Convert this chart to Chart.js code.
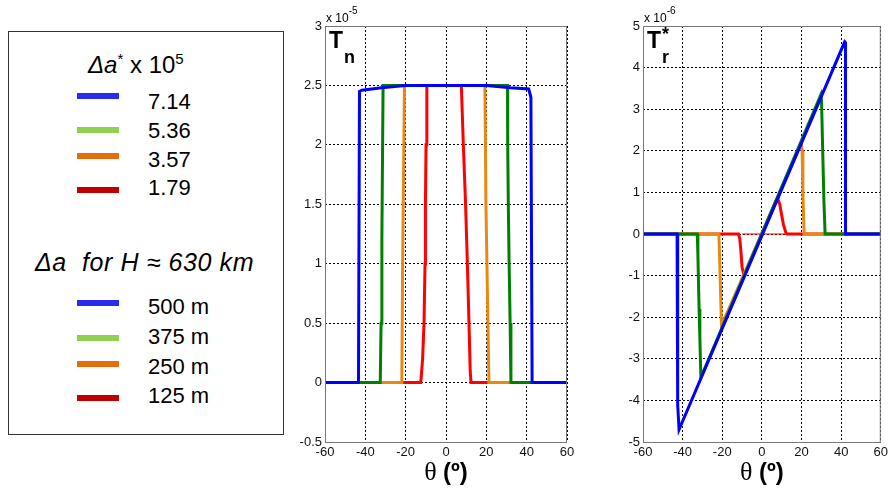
<!DOCTYPE html>
<html>
<head>
<meta charset="utf-8">
<script src="https://cdn.jsdelivr.net/npm/chart.js@4.4.0/dist/chart.umd.min.js"></script>
<style>
  body { margin: 0; background: #fff; width: 891px; height: 489px; overflow: hidden; position: relative; font-family: "Liberation Sans", Arial, sans-serif; }
  canvas { position: absolute; top: 0; }
  #legendBox { position: absolute; left: 8px; top: 31px; width: 274px; height: 402px; border: 1px solid #333; }
  .lg { position: absolute; font-size: 22px; line-height: 24px; color: #000; white-space: nowrap; }
  .sw { position: absolute; left: 77px; width: 42px; height: 6px; }
  sup { font-size: 15px; line-height: 0; }
</style>
</head>
<body>
<div id="legendBox"></div>
<div id="legend"></div>
<canvas id="chartTn" width="290" height="489" style="left:290px"></canvas>
<canvas id="chartTr" width="291" height="489" style="left:600px"></canvas>
<script>
// legend
const legendTitle1 = '<i>&Delta;a</i><sup>*</sup> x 10<sup>5</sup>';
const legendTitle2 = '<i>&Delta;a&nbsp; for H &asymp; 630 km</i>';
const legendDa = ['7.14', '5.36', '3.57', '1.79'];
const legendH = ['500 m', '375 m', '250 m', '125 m'];
const legendColors = ['#2b2bf0', '#92d050', '#e46c0a', '#c00000'];

// series colours on the charts (blue, green, orange, red)
const lineColors = ['#0000ff', '#008000', '#e88a12', '#ff0000'];

// Tn (x 1e-5) vs theta
const tnThetaBlue = [-60, -43.4, -42.9, -41.7, -32, -20, 0, 20, 32, 41, 42.1, 42.7, 60];
const tnBlue = [0, 0, 2.45, 2.46, 2.48, 2.5, 2.5, 2.5, 2.48, 2.47, 2.4, 0, 0];
const tnThetaGreen = [-60, -32.6, -32.2, -31.8, -31.2, 30.5, 30.6, 30.9, 31.3, 31.8, 32.2, 60];
const tnGreen = [0, 0, 0.5, 1.2, 2.5, 2.5, 2.0, 1.5, 1.0, 0.5, 0, 0];
const tnThetaOrange = [-60, -21.9, -21.5, -20.6, 19.3, 19.8, 20.5, 21.3, 60];
const tnOrange = [0, 0, 1.0, 2.5, 2.5, 1.5, 0.8, 0, 0];
const tnThetaRed = [-60, -12.5, -11.6, -10.9, -10.4, -10.2, -9.9, -9.5, 7.6, 8.6, 9.7, 10.6, 11.4, 12.0, 12.4, 60];
const tnRed = [0, 0, 0.2, 0.5, 1.0, 1.5, 2.0, 2.5, 2.5, 2.0, 1.5, 1.0, 0.5, 0.1, 0, 0];

// Tr* (x 1e-6) vs theta
const trThetaBlue = [-60, -42.8, -42.5, -41.8, 41.8, 42.2, 42.2, 60];
const trBlue = [0, 0, -4.1, -4.7, 4.62, 4.6, 0, 0];
const trThetaGreen = [-60, -32.6, -32.3, -31.7, -31.3, -30.8, 29.8, 30.1, 30.8, 31.3, 31.9, 60];
const trGreen = [0, 0, -0.5, -1.8, -2.5, -3.45, 3.35, 3.2, 1.8, 0.8, 0, 0];
const trThetaOrange = [-60, -21.7, -21.2, -20.4, 20.0, 20.3, 20.7, 21.3, 60];
const trOrange = [0, 0, -0.8, -2.2, 2.2, 2.0, 1.0, 0, 0];
const trThetaRed = [-60, -11.8, -11.2, -10.6, -10.0, -9.0, 7.0, 8.0, 9.0, 10.0, 11.0, 12.2, 12.7, 60];
const trRed = [0, 0, -0.1, -0.4, -0.8, -1.0, 0.78, 0.85, 0.72, 0.45, 0.2, 0.02, 0, 0];
const trThetaRedThin = [-10, 12];
const trRedThin = [0, 0];

const xTicks = [-60, -40, -20, 0, 20, 40, 60];

// build the html legend
(function () {
  let html = '';
  html += '<div class="lg" style="left:88px;top:53px;font-size:24px">' + legendTitle1 + '</div>';
  const txtY1 = [101.5, 130.5, 159.5, 188.3], swY1 = [96, 130, 156, 190];
  const txtY2 = [306.5, 337, 367, 396], swY2 = [303, 338, 364, 398];
  legendDa.forEach((t, i) => {
    html += '<div class="sw" style="top:' + (swY1[i] - 3) + 'px;background:' + legendColors[i] + '"></div>';
    html += '<div class="lg" style="left:148px;top:' + (txtY1[i] - 12) + 'px">' + t + '</div>';
  });
  html += '<div class="lg" style="left:35px;top:250px;font-size:25px;letter-spacing:0.6px">' + legendTitle2 + '</div>';
  legendH.forEach((t, i) => {
    html += '<div class="sw" style="top:' + (swY2[i] - 3) + 'px;background:' + legendColors[i] + '"></div>';
    html += '<div class="lg" style="left:148px;top:' + (txtY2[i] - 12) + 'px">' + t + '</div>';
  });
  document.getElementById('legend').innerHTML = html;
})();

function pts(xs, ys) {
  return xs.map((x, i) => ({ x: x, y: ys[i] }));
}

function ds(xs, ys, color, order, width) {
  return {
    data: pts(xs, ys),
    borderColor: color,
    backgroundColor: color,
    borderWidth: width || 3,
    showLine: true,
    pointRadius: 0,
    tension: 0,
    order: order
  };
}

// frame, corner label and axis title
const decor = {
  id: 'decor',
  afterDraw(chart, args, opts) {
    const ctx = chart.ctx, a = chart.chartArea;
    ctx.save();
    ctx.strokeStyle = '#777';
    ctx.lineWidth = 1;
    ctx.strokeRect(a.left + 0.5, a.top + 0.5, a.right - a.left - 1, a.bottom - a.top);
    ctx.fillStyle = '#000';
    ctx.textBaseline = 'alphabetic';
    // x 10^exp
    ctx.font = '12px "Liberation Sans", Arial';
    ctx.fillText('x 10', a.left + 1, a.top - 4);
    const w = ctx.measureText('x 10').width;
    ctx.font = '10px "Liberation Sans", Arial';
    ctx.fillText(opts.exp, a.left + 1 + w, a.top - 12);
    // T with subscript
    ctx.font = 'bold 23px "Liberation Sans", Arial';
    ctx.fillText('T', a.left + 4, a.top + 22);
    const tw = ctx.measureText('T').width;
    if (opts.star) {
      ctx.font = 'bold 18px "Liberation Sans", Arial';
      ctx.fillText('*', a.left + 4 + tw + 1, a.top + 14);
    }
    ctx.font = 'bold 18px "Liberation Sans", Arial';
    ctx.fillText(opts.sub, a.left + 4 + tw + 1, a.top + 37);
    // axis title
    ctx.font = '26px "Liberation Serif", serif';
    const t1 = 'θ ';
    const w1 = ctx.measureText(t1).width;
    ctx.font = 'bold 24px "Liberation Sans", Arial';
    const t2 = '(º)';
    const w2 = ctx.measureText(t2).width;
    const cx = (a.left + a.right) / 2;
    let x0 = cx - (w1 + w2) / 2;
    ctx.font = '26px "Liberation Serif", serif';
    ctx.fillText(t1, x0, a.bottom + 38);
    ctx.font = 'bold 24px "Liberation Sans", Arial';
    ctx.fillText(t2, x0 + w1, a.bottom + 38);
    ctx.restore();
  }
};

function makeOptions(yMin, yMax, yStep, yWidth, rightPad, exp, sub, star) {
  return {
    responsive: false,
    animation: false,
    layout: { autoPadding: false, padding: { top: 26, right: rightPad, left: 0, bottom: 0 } },
    plugins: {
      legend: { display: false },
      tooltip: { enabled: false },
      decor: { exp: exp, sub: sub, star: star }
    },
    scales: {
      x: {
        type: 'linear', min: -60, max: 60,
        afterBuildTicks: (s) => { s.ticks = xTicks.map(v => ({ value: v })); },
        afterFit: (s) => { s.height = 47; },
        ticks: { color: '#111', font: { size: 13, family: '"Liberation Sans", Arial' }, padding: 3, maxRotation: 0, autoSkip: false },
        grid: { color: '#000', lineWidth: 1, drawTicks: false, tickLength: 0 },
        border: { display: false, dash: [2, 2] }
      },
      y: {
        type: 'linear', min: yMin, max: yMax,
        ticks: {
          stepSize: yStep, color: '#111', font: { size: 13, family: '"Liberation Sans", Arial' }, padding: 3, autoSkip: false,
          callback: (v) => String(Math.round(v * 10) / 10)
        },
        afterFit: (s) => { s.width = yWidth; },
        grid: { color: '#000', lineWidth: 1, drawTicks: false, tickLength: 0 },
        border: { display: false, dash: [2, 2] }
      }
    }
  };
}

Chart.register(decor);

new Chart(document.getElementById('chartTn'), {
  type: 'scatter',
  data: {
    datasets: [
      ds(tnThetaBlue, tnBlue, lineColors[0], 1),
      ds(tnThetaGreen, tnGreen, lineColors[1], 2),
      ds(tnThetaOrange, tnOrange, lineColors[2], 3),
      ds(tnThetaRed, tnRed, lineColors[3], 4)
    ]
  },
  options: makeOptions(-0.5, 3, 0.5, 35, 13, '-5', 'n', false)
});

new Chart(document.getElementById('chartTr'), {
  type: 'scatter',
  data: {
    datasets: [
      ds(trThetaBlue, trBlue, lineColors[0], 1),
      ds(trThetaGreen, trGreen, lineColors[1], 2),
      ds(trThetaOrange, trOrange, lineColors[2], 3),
      ds(trThetaRed, trRed, lineColors[3], 4),
      ds(trThetaRedThin, trRedThin, lineColors[3], 5, 1)
    ]
  },
  options: makeOptions(-5, 5, 1, 43, 6, '-6', 'r', true)
});
</script>
</body>
</html>
